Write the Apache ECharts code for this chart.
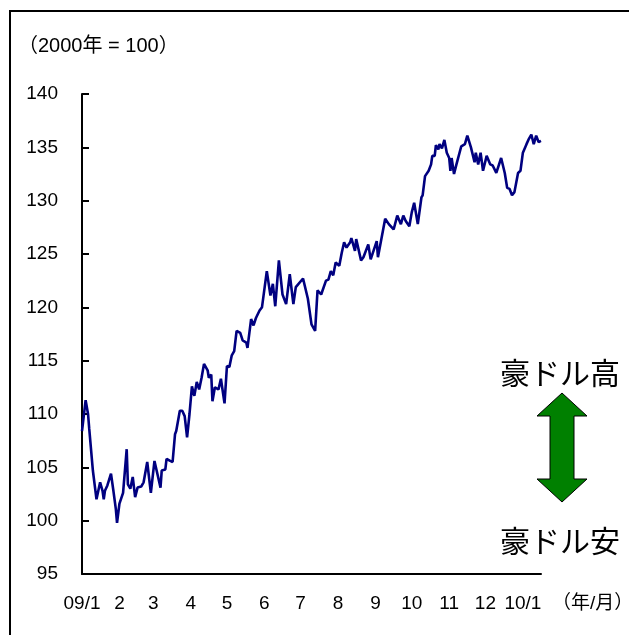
<!DOCTYPE html>
<html>
<head>
<meta charset="utf-8">
<script src="https://cdn.jsdelivr.net/npm/echarts@6/dist/echarts.min.js"></script>
<style>
  html, body { margin: 0; padding: 0; background: #fff; }
  #chart { width: 629px; height: 635px; }
</style>
</head>
<body>
<div id="chart"></div>
<script>
// AUD index (2000 = 100), Jan 2009 – mid Jan 2010; x = day count from 2009-01-01
const dayOfPeriod = [0,3,5,6,7,9,12,15,17,18,19,21,24,26,28,29,30,31,34,37,38,40,42,44,46,49,51,54,57,60,63,65,66,69,70,73,75,77,78,81,83,85,87,89,91,93,95,97,99,101,104,105,107,108,110,113,115,118,120,122,124,126,128,131,133,136,137,140,142,144,147,149,153,156,158,160,163,166,169,172,175,177,183,187,188,190,193,195,198,202,204,206,208,210,213,215,217,219,222,223,226,227,231,233,237,239,244,245,251,254,258,261,264,266,268,271,273,275,278,281,282,284,287,289,290,292,293,295,296,298,300,302,304,305,306,308,310,314,317,319,322,325,326,328,330,332,335,338,340,343,347,350,352,354,356,358,361,363,365,368,370,372,374,376,378,380];
const audIndex = [108.4,111.3,110.0,108.6,108.7,104.7,102.0,103.6,102.8,102.0,
  102.8,103.3,104.4,102.8,101.1,99.8,99.8,101.6,102.6,106.7,
  103.4,103.0,104.1,102.2,103.1,103.2,103.6,105.5,102.6,105.6,
  104.1,103.1,104.7,104.8,105.8,105.6,105.5,108.1,108.4,110.3,
  110.3,109.8,107.8,110.0,112.6,111.7,113.0,112.3,113.4,114.7,
  114.1,113.4,113.7,111.2,112.5,112.3,113.3,111.0,114.5,114.4,
  115.5,115.9,117.8,117.6,116.9,116.7,116.2,118.9,118.3,119.0,
  119.7,120.0,123.4,121.1,122.2,120.1,124.4,121.2,120.3,123.1,
  120.3,121.9,122.7,120.8,120.9,118.4,117.8,121.6,121.2,122.5,
  122.6,123.4,123.0,124.2,123.9,125.1,126.1,125.6,126.1,126.5,
  125.3,126.4,124.4,124.7,125.9,124.5,126.2,124.7,128.3,127.8,
  127.3,128.6,127.8,128.6,128.1,127.6,128.9,129.8,127.8,130.3,
  130.5,132.3,132.8,133.4,134.2,134.2,135.2,134.8,135.3,134.9,
  135.7,134.5,134.0,132.8,134.0,132.5,133.4,135.1,135.3,136.1,
  135.0,133.6,134.5,133.4,134.5,132.8,134.2,133.4,133.3,132.6,
  134.0,132.6,131.2,131.1,130.5,130.8,132.6,132.8,134.5,135.3,
  135.8,136.2,135.3,136.1,135.5,135.6];

// month starts (days from 2009-01-01) and their labels
const monthStarts = [0,31,59,90,120,151,181,212,243,273,304,334,365];
const monthLabels = ['09/1','2','3','4','5','6','7','8','9','10','11','12','10/1'];

const yTicks = [95,100,105,110,115,120,125,130,135,140];

const NUM_FONT = '"Liberation Sans", Arial, sans-serif';
const MIX_FONT = '"Liberation Sans", "Noto Sans CJK JP", sans-serif';
const JP_FONT = '"Noto Sans CJK JP", sans-serif';

const chart = echarts.init(document.getElementById('chart'), null, { renderer: 'canvas' });

const seriesData = dayOfPeriod.map((d, i) => [d, audIndex[i]]);

// double-headed arrow (vertical)
const arrowX = 562, arrowTop = 393, arrowBot = 502, headH = 23, headW = 25, shaftW = 12;
const arrowPts = [
  [arrowX, arrowTop], [arrowX + headW, arrowTop + headH], [arrowX + shaftW, arrowTop + headH],
  [arrowX + shaftW, arrowBot - headH], [arrowX + headW, arrowBot - headH], [arrowX, arrowBot],
  [arrowX - headW, arrowBot - headH], [arrowX - shaftW, arrowBot - headH],
  [arrowX - shaftW, arrowTop + headH], [arrowX - headW, arrowTop + headH]
];

chart.setOption({
  animation: false,
  backgroundColor: '#fff',
  grid: { left: 82, right: 88, top: 94, bottom: 61, containLabel: false },
  xAxis: {
    type: 'value',
    min: 0,
    max: 380,
    axisLine: { show: true, onZero: false, lineStyle: { color: '#000', width: 2 } },
    axisTick: { show: false },
    splitLine: { show: false },
    axisLabel: {
      customValues: monthStarts,
      formatter: v => monthLabels[monthStarts.indexOf(v)] ?? '',
      color: '#000', fontFamily: NUM_FONT, fontSize: 19, margin: 20
    }
  },
  yAxis: {
    type: 'value',
    min: 95,
    max: 140,
    interval: 5,
    axisLine: { show: true, lineStyle: { color: '#000', width: 2 } },
    axisTick: { show: true, inside: true, length: 7, lineStyle: { color: '#000', width: 2 } },
    splitLine: { show: false },
    axisLabel: {
      formatter: v => (yTicks.includes(v) ? String(v) : ''),
      color: '#000', fontFamily: NUM_FONT, fontSize: 19, margin: 24
    }
  },
  series: [{
    type: 'line',
    data: seriesData,
    showSymbol: false,
    lineStyle: { color: '#000080', width: 2.6 },
    clip: false
  }],
  graphic: [
    { type: 'rect', shape: { x: 10, y: 11, width: 800, height: 800 }, style: { fill: 'none', stroke: '#000', lineWidth: 2 }, silent: true },
    { type: 'text', left: 18, top: 36, style: { text: '（2000年 = 100）', font: '20px ' + MIX_FONT, fill: '#000' } },
    { type: 'text', left: 552, top: 594, style: { text: '（年/月）', font: '19px ' + MIX_FONT, fill: '#000' } },
    { type: 'text', x: 560, y: 373, style: { text: '豪ドル高', font: '30px ' + JP_FONT, fill: '#000', align: 'center', verticalAlign: 'middle' } },
    { type: 'text', x: 560, y: 541, style: { text: '豪ドル安', font: '30px ' + JP_FONT, fill: '#000', align: 'center', verticalAlign: 'middle' } },
    { type: 'polygon', shape: { points: arrowPts }, style: { fill: '#008000', stroke: '#000', lineWidth: 1 } }
  ]
});
</script>
</body>
</html>
